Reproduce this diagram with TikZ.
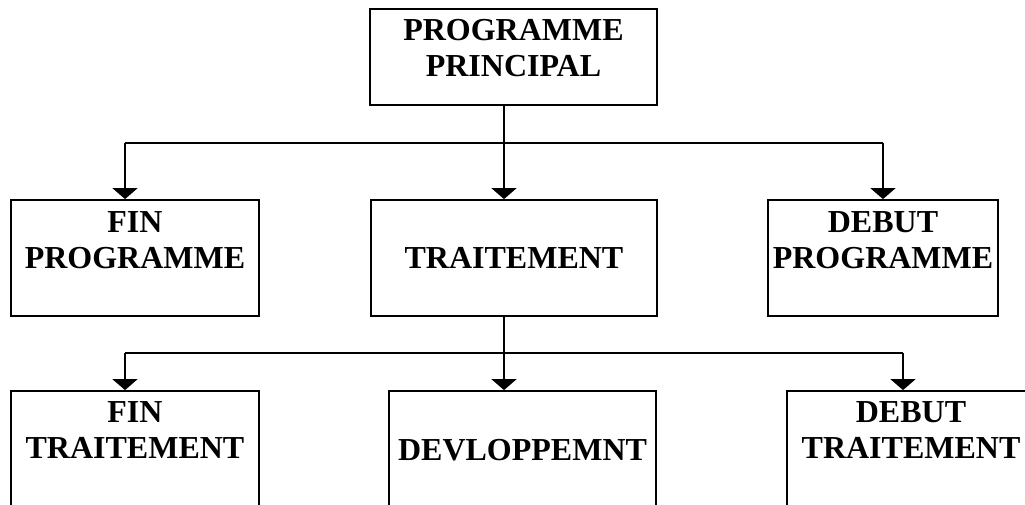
\documentclass[tikz,border=0pt]{standalone}
\usepackage{fontspec}
\setmainfont{Liberation Serif}
\usetikzlibrary{arrows.meta}
\begin{document}
\begin{tikzpicture}[x=1pt,y=-1pt,
  box/.style={draw,line width=1.8pt,rectangle,inner sep=0pt},
  lbl/.style={anchor=north,inner sep=0pt,align=center,
    font=\fontsize{32}{36}\selectfont\bfseries},
  link/.style={line width=1.8pt},
  arr/.style={link,-{Triangle[width=25pt,length=11pt]}}]
\fill[white] (0,0) rectangle (1025,504);
\useasboundingbox (0,0) rectangle (1025,504);

% boxes
\node[box,minimum width=287pt,minimum height=96pt]  (top) at (513.5,57) {};
\node[box,minimum width=248pt,minimum height=116pt] (fp)  at (135,258)  {};
\node[box,minimum width=286pt,minimum height=116pt] (tr)  at (514,258)  {};
\node[box,minimum width=230pt,minimum height=116pt] (dp)  at (883,258)  {};
\node[box,minimum width=248pt,minimum height=139pt] (ft)  at (135,460.5) {};
\node[box,minimum width=267pt,minimum height=139pt] (dv)  at (522.5,460.5) {};
\node[box,minimum width=248pt,minimum height=139pt] (dt)  at (911,460.5) {};

% labels
\node[lbl] (top-t) at ([yshift=-11pt]top.north) {PROGRAMME\\PRINCIPAL};
\node[lbl] (fp-t)  at ([yshift=-12pt]fp.north)  {FIN\\PROGRAMME};
\node[lbl] (tr-t)  at ([yshift=-48pt]tr.north)  {TRAITEMENT};
\node[lbl] (dp-t)  at ([yshift=-12pt]dp.north)  {DEBUT\\PROGRAMME};
\node[lbl] (ft-t)  at ([yshift=-11pt]ft.north)  {FIN\\TRAITEMENT};
\node[lbl] (dv-t)  at ([yshift=-49pt]dv.north)  {DEVLOPPEMNT};
\node[lbl] (dt-t)  at ([yshift=-11pt]dt.north)  {DEBUT\\TRAITEMENT};

% first level connectors
\coordinate (ta) at (504,105);
\coordinate (j1) at (504,143);
\coordinate (jl) at (125,143);
\coordinate (jr) at (883,143);
\draw[link] (ta) -- (j1);
\draw[link] (jl) -- (jr);
\draw[arr] (jl) -- (jl |- fp.north);
\draw[arr] (j1) -- (j1 |- tr.north);
\draw[arr] (jr) -- (jr |- dp.north);

% second level connectors
\coordinate (tb) at (504,316);
\coordinate (k1) at (504,353);
\coordinate (kl) at (125,353);
\coordinate (kr) at (903,353);
\draw[link] (tb) -- (k1);
\draw[link] (kl) -- (kr);
\draw[arr] (kl) -- (kl |- ft.north);
\draw[arr] (k1) -- (k1 |- dv.north);
\draw[arr] (kr) -- (kr |- dt.north);
\end{tikzpicture}
\end{document}
